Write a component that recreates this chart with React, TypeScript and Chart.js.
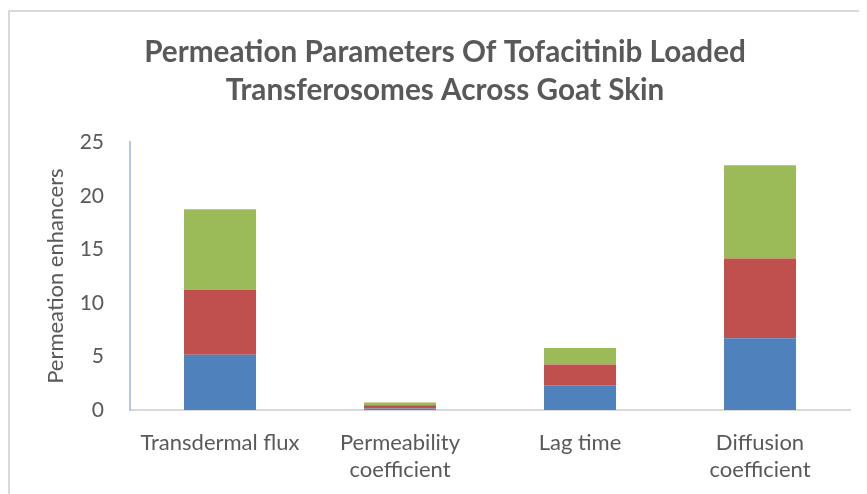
import React, { useEffect, useRef } from "react";
import { Chart, registerables } from "chart.js";

Chart.register(...registerables);

const categories: (string | string[])[] = [
  "Transdermal flux",
  ["Permeability", "coefficient"],
  "Lag time",
  ["Diffusion", "coefficient"],
];
const seriesBlue = [5.15, 0.15, 2.3, 6.7];
const seriesRed = [6.05, 0.3, 1.95, 7.45];
const seriesGreen = [7.55, 0.25, 1.55, 8.7];
const titleLines = ["Permeation Parameters Of Tofacitinib Loaded", "Transferosomes Across Goat Skin"];
const yTitle = "Permeation enhancers";

const TEXT = "#595959";
const FONT = "Lato, 'Open Sans', sans-serif";

export default function App() {
  const ref = useRef<HTMLCanvasElement | null>(null);

  useEffect(() => {
    if (!ref.current) return;
    const chart = new Chart(ref.current, {
      type: "bar",
      data: {
        labels: categories,
        datasets: [
          { label: "Series1", data: seriesBlue, backgroundColor: "#4f81bd" },
          { label: "Series2", data: seriesRed, backgroundColor: "#c0504d" },
          { label: "Series3", data: seriesGreen, backgroundColor: "#9bbb59" },
        ],
      },
      options: {
        animation: false,
        responsive: false,
        maintainAspectRatio: false,
        layout: { padding: { left: 30, right: 15, top: 0, bottom: 0 } },
        datasets: { bar: { categoryPercentage: 1, barPercentage: 0.4 } },
        plugins: {
          legend: { display: false },
          tooltip: { enabled: false },
          title: {
            display: true,
            text: titleLines,
            color: TEXT,
            font: { family: FONT, size: 29.7, weight: "bold", lineHeight: 1.3 },
            padding: { top: 21, bottom: 32 },
          },
        },
        scales: {
          x: {
            stacked: true,
            grid: { display: false },
            border: { display: true, color: "#d9d9d9", width: 2 },
            ticks: {
              color: TEXT,
              font: { family: FONT, size: 22, lineHeight: 1.2 },
              padding: 12,
              maxRotation: 0,
              autoSkip: false,
            },
            afterFit: (s: any) => {
              s.height = 92;
            },
          },
          y: {
            stacked: true,
            min: 0,
            max: 25,
            grid: { display: false },
            border: { display: true, color: "#b4c7e7", width: 2 },
            ticks: {
              stepSize: 5,
              color: TEXT,
              font: { family: FONT, size: 21 },
              padding: 18,
            },
            title: {
              display: true,
              text: yTitle,
              color: TEXT,
              font: { family: FONT, size: 22 },
              padding: { top: 3, bottom: 0 },
            },
            afterFit: (s: any) => {
              s.width = 90;
            },
          },
        },
      },
    });
    return () => chart.destroy();
  }, []);

  return (
    <div
      style={{
        marginTop: 2,
        width: 855,
        height: 490,
        border: "2px solid #d9d9d9",
        background: "#fff",
      }}
    >
      <canvas ref={ref} width={855} height={490} style={{ display: "block" }} />
    </div>
  );
}
